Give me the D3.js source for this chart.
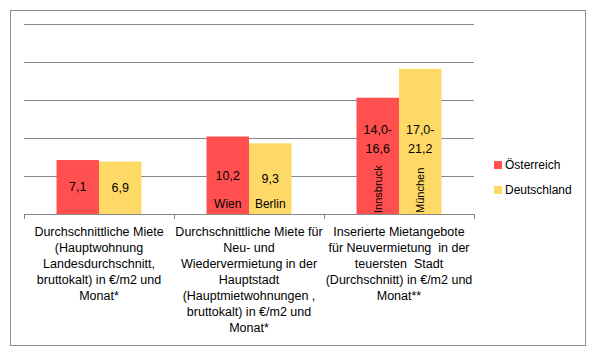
<!DOCTYPE html>
<html>
<head>
<meta charset="utf-8">
<script src="https://cdn.jsdelivr.net/npm/d3@7"></script>
<style>
  body { margin: 0; background: #fff; }
  svg text { font-family: "Liberation Sans", Arial, sans-serif; fill: #000; white-space: pre; }
</style>
</head>
<body>
<svg id="chart" width="597" height="354"></svg>
<script>
// Mieten Österreich vs. Deutschland
const categories = [
  ["Durchschnittliche Miete", "(Hauptwohnung", "Landesdurchschnitt,", "bruttokalt) in €/m2 und", "Monat*"],
  ["Durchschnittliche Miete für", "Neu- und", "Wiedervermietung in der", "Hauptstadt", "(Hauptmietwohnungen ,", "bruttokalt) in €/m2 und", "Monat*"],
  ["Inserierte Mietangebote", "für Neuvermietung  in der", "teuersten  Stadt", "(Durchschnitt) in €/m2 und", "Monat**"]
];
const seriesNames = ["Österreich", "Deutschland"];
// bar heights (range bars drawn at their midpoint)
const oesterreich = [7.1, 10.2, 15.3];
const deutschland = [6.9, 9.3, 19.1];
// data label texts
const oeLabels = [["7,1"], ["10,2"], ["14,0-", "16,6"]];
const deLabels = [["6,9"], ["9,3"], ["17,0-", "21,2"]];
const oeCities = [null, "Wien", "Innsbruck"];
const deCities = [null, "Berlin", "München"];
const colors = ["#ff4f4f", "#ffd966"];
const yTicks = [0, 5, 10, 15, 20, 25];

const svg = d3.select('#chart');
svg.append('rect').attr('width', 597).attr('height', 354).attr('fill', '#fff');
svg.append('rect')
  .attr('x', 10.5).attr('y', 10.5).attr('width', 575).attr('height', 335)
  .attr('fill', 'none').attr('stroke', '#8c8c8c');

const plot = { left: 24, right: 474, top: 24, bottom: 214 };

const x0 = d3.scaleBand().domain(d3.range(categories.length))
  .range([plot.left, plot.right]).paddingInner(0).paddingOuter(0);
const x1 = d3.scaleBand().domain([0, 1])
  .range([0, x0.bandwidth()]).paddingOuter(0.765).paddingInner(0);
const y = d3.scaleLinear().domain([0, 25]).range([plot.bottom, plot.top]);

// gridlines
svg.append('g').selectAll('line')
  .data(yTicks.filter(d => d > 0))
  .join('line')
  .attr('x1', plot.left).attr('x2', plot.right)
  .attr('y1', d => Math.round(y(d)) + 0.5).attr('y2', d => Math.round(y(d)) + 0.5)
  .attr('stroke', '#868686');

// bars
const series = [oesterreich, deutschland];
const groups = svg.append('g').selectAll('g')
  .data(categories.map((c, i) => i))
  .join('g')
  .attr('transform', i => `translate(${x0(i)},0)`);

groups.selectAll('rect')
  .data(i => series.map((s, k) => ({ k, v: s[i] })))
  .join('rect')
  .attr('x', d => x1(d.k))
  .attr('width', x1.bandwidth())
  .attr('y', d => y(d.v))
  .attr('height', d => y(0) - y(d.v))
  .attr('fill', d => colors[d.k]);

// x axis
const xAxis = svg.append('g');
xAxis.append('line')
  .attr('x1', plot.left).attr('x2', plot.right)
  .attr('y1', plot.bottom + 0.5).attr('y2', plot.bottom + 0.5)
  .attr('stroke', '#868686');
xAxis.selectAll('line.tick')
  .data(d3.range(categories.length + 1))
  .join('line').attr('class', 'tick')
  .attr('x1', i => (i < categories.length ? x0(i) : plot.right) + 0.5)
  .attr('x2', i => (i < categories.length ? x0(i) : plot.right) + 0.5)
  .attr('y1', plot.bottom).attr('y2', plot.bottom + 5)
  .attr('stroke', '#868686');

// category labels
categories.forEach((lines, i) => {
  const t = svg.append('text')
    .attr('x', x0(i) + x0.bandwidth() / 2)
    .attr('y', 236)
    .attr('text-anchor', 'middle')
    .style('font-size', '12.5px');
  lines.forEach((ln, j) => {
    t.append('tspan').attr('x', x0(i) + x0.bandwidth() / 2)
      .attr('dy', j === 0 ? 0 : 16).text(ln);
  });
});

// data labels
const labelSets = [oeLabels, deLabels];
const citySets = [oeCities, deCities];
categories.forEach((c, i) => {
  [0, 1].forEach(k => {
    const cx = x0(i) + x1(k) + x1.bandwidth() / 2;
    const v = series[k][i];
    const lines = labelSets[k][i];
    let cy = (y(v) + y(0)) / 2;
    if (lines.length > 1) cy = y(0) - 75;
    lines.forEach((ln, j) => {
      svg.append('text')
        .attr('x', cx)
        .attr('y', cy + (j - (lines.length - 1) / 2) * 19)
        .attr('dy', '0.35em')
        .attr('text-anchor', 'middle')
        .style('font-size', '12.5px')
        .text(ln);
    });
    const city = citySets[k][i];
    if (city && lines.length === 1) {
      svg.append('text')
        .attr('x', cx).attr('y', y(0) - 10).attr('dy', '0.35em')
        .attr('text-anchor', 'middle')
        .style('font-size', '12px')
        .text(city);
    } else if (city) {
      svg.append('text')
        .attr('transform', `translate(${cx},${y(0) - 1}) rotate(-90)`)
        .attr('dy', '0.35em')
        .attr('text-anchor', 'start')
        .style('font-size', '11px')
        .text(city);
    }
  });
});

// legend
const legend = svg.append('g').attr('transform', 'translate(494,161)');
seriesNames.forEach((name, k) => {
  const g = legend.append('g').attr('transform', `translate(0,${k * 25})`);
  g.append('rect').attr('width', 8).attr('height', 8).attr('fill', colors[k]);
  g.append('text').attr('x', 11).attr('y', 4).attr('dy', '0.35em')
    .style('font-size', '12px').text(name);
});
</script>
</body>
</html>
